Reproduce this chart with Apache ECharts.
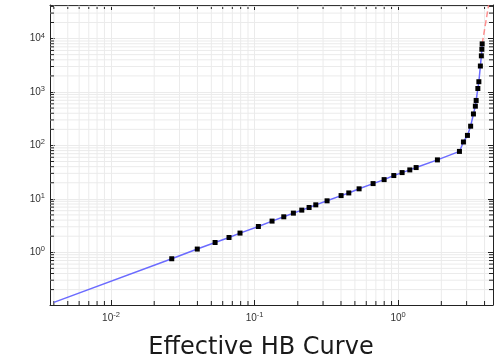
<!DOCTYPE html>
<html>
<head>
<meta charset="utf-8">
<script src="https://cdn.jsdelivr.net/npm/echarts@6/dist/echarts.min.js"></script>
<style>
  html, body { margin: 0; padding: 0; background: #fff; }
  #chart { width: 498px; height: 364px; }
</style>
</head>
<body>
<div id="chart"></div>
<script>
// measured points (B on x, H on y)
const bField = [0.0265, 0.0399, 0.0531, 0.0664, 0.0792, 0.1063, 0.1324, 0.1598, 0.1864, 0.2133,
  0.2398, 0.267, 0.32, 0.4007, 0.4533, 0.5349, 0.6694, 0.7989, 0.933, 1.066, 1.206, 1.335,
  1.878, 2.674, 2.851, 3.04, 3.2, 3.347, 3.451, 3.496, 3.592, 3.651, 3.74, 3.8, 3.83, 3.85]
const hField = [0.756, 1.148, 1.524, 1.891, 2.285, 3.035, 3.83, 4.61, 5.4, 6.15,
  6.88, 7.72, 9.18, 11.5, 12.9, 15.4, 19.3, 22.9, 27.3, 31.0, 34.8, 38.5,
  53.6, 77.2, 116, 154, 229, 388, 543, 694, 1163, 1558, 3062, 4750, 6310, 7960]

// start of the linear part and end of the extrapolation
const curveStart = [0.004, 0.1153]
const extrapEnd = [4.27, 42500]

// axis ranges
const xRange = [0.00376, 4.58]
const yRange = [0.103, 42500]

// log minor ticks: mantissas per decade
const mantissas = [2, 3, 4, 5, 6, 7, 8, 9]
const xDecades = [-3, -2, -1, 0]
const yDecades = [-1, 0, 1, 2, 3, 4]

const minorData = []
xDecades.forEach((d) => {
  mantissas.forEach((m) => {
    const v = m * Math.pow(10, d)
    if (v > xRange[0] && v < xRange[1]) minorData.push([v, 1, 0])
  })
})
yDecades.forEach((d) => {
  mantissas.forEach((m) => {
    const v = m * Math.pow(10, d)
    if (v > yRange[0] && v < yRange[1]) minorData.push([1, v, 1])
  })
})

const points = bField.map((b, i) => [b, hField[i]])
const curve = [curveStart].concat(points)
const extrap = [points[points.length - 1], extrapEnd]

const axisColor = '#222'
const gridColor = '#ebebeb'

// label like 10^n, skip the non-integer edge ticks
const powLabel = (value) => {
  const n = Math.log10(value)
  const r = Math.round(n)
  if (Math.abs(n - r) > 1e-6) return ''
  return '{b|10}{e|' + r + '}'
}
const labelRich = {
  b: { fontSize: 10, fontFamily: 'Liberation Sans', color: '#333' },
  e: { fontSize: 7.5, fontFamily: 'Liberation Sans', color: '#333', padding: [0, 0, 6, 0] },
}

const axisBase = {
  type: 'log',
  logBase: 10,
  axisLine: { show: true, lineStyle: { color: axisColor, width: 1 } },
  axisTick: { show: true, inside: true, length: 5, lineStyle: { color: axisColor } },
  minorTick: { show: false },
}

const chart = echarts.init(document.getElementById('chart'))

chart.setOption({
  animation: false,
  grid: { left: 50, right: 5, top: 5, bottom: 59 },
  xAxis: [
    {
      ...axisBase,
      position: 'bottom',
      min: xRange[0],
      max: xRange[1],
      splitLine: { show: true, lineStyle: { color: gridColor } },
      axisLabel: { formatter: powLabel, rich: labelRich, margin: 6 },
    },
    {
      ...axisBase,
      position: 'top',
      min: xRange[0],
      max: xRange[1],
      splitLine: { show: false },
      axisLabel: { show: false },
    },
  ],
  yAxis: [
    {
      ...axisBase,
      position: 'left',
      min: yRange[0],
      max: yRange[1],
      splitLine: { show: true, lineStyle: { color: gridColor } },
      axisLabel: { formatter: powLabel, rich: labelRich, margin: 5 },
    },
    {
      ...axisBase,
      position: 'right',
      min: yRange[0],
      max: yRange[1],
      splitLine: { show: false },
      axisLabel: { show: false },
    },
  ],
  graphic: [
    {
      type: 'text',
      x: 261,
      y: 348,
      style: {
        text: 'Effective HB Curve',
        font: '24px "DejaVu Sans"',
        fill: '#1a1a1a',
        textAlign: 'center',
        textVerticalAlign: 'middle',
      },
    },
  ],
  series: [
    {
      // minor grid lines + minor ticks on all four sides
      type: 'custom',
      xAxisIndex: 0,
      yAxisIndex: 0,
      z: 1,
      silent: true,
      data: minorData,
      renderItem: (params, api) => {
        const cs = params.coordSys
        const kind = api.value(2)
        if (kind === 0) {
          const px = api.coord([api.value(0), 1])[0]
          return {
            type: 'group',
            children: [
              { type: 'line', shape: { x1: px, y1: cs.y, x2: px, y2: cs.y + cs.height }, style: { stroke: gridColor, lineWidth: 1 } },
              { type: 'line', shape: { x1: px, y1: cs.y + cs.height, x2: px, y2: cs.y + cs.height - 4 }, style: { stroke: axisColor, lineWidth: 1 } },
              { type: 'line', shape: { x1: px, y1: cs.y, x2: px, y2: cs.y + 4 }, style: { stroke: axisColor, lineWidth: 1 } },
            ],
          }
        }
        const py = api.coord([1, api.value(1)])[1]
        return {
          type: 'group',
          children: [
            { type: 'line', shape: { x1: cs.x, y1: py, x2: cs.x + cs.width, y2: py }, style: { stroke: gridColor, lineWidth: 1 } },
            { type: 'line', shape: { x1: cs.x, y1: py, x2: cs.x + 4, y2: py }, style: { stroke: axisColor, lineWidth: 1 } },
            { type: 'line', shape: { x1: cs.x + cs.width, y1: py, x2: cs.x + cs.width - 4, y2: py }, style: { stroke: axisColor, lineWidth: 1 } },
          ],
        }
      },
    },
    {
      name: 'curve',
      type: 'line',
      z: 3,
      data: curve,
      showSymbol: false,
      symbol: 'none',
      lineStyle: { color: '#6b6bff', width: 1.5 },
    },
    {
      name: 'extrapolation',
      type: 'line',
      z: 3,
      data: extrap,
      symbol: 'none',
      lineStyle: { color: 'rgba(255, 110, 110, 0.75)', width: 1.5, type: [6, 3] },
    },
    {
      name: 'points',
      type: 'scatter',
      z: 4,
      data: points,
      symbol: 'rect',
      symbolSize: 5,
      itemStyle: { color: '#000', opacity: 1 },
    },
  ],
})
</script>
</body>
</html>
